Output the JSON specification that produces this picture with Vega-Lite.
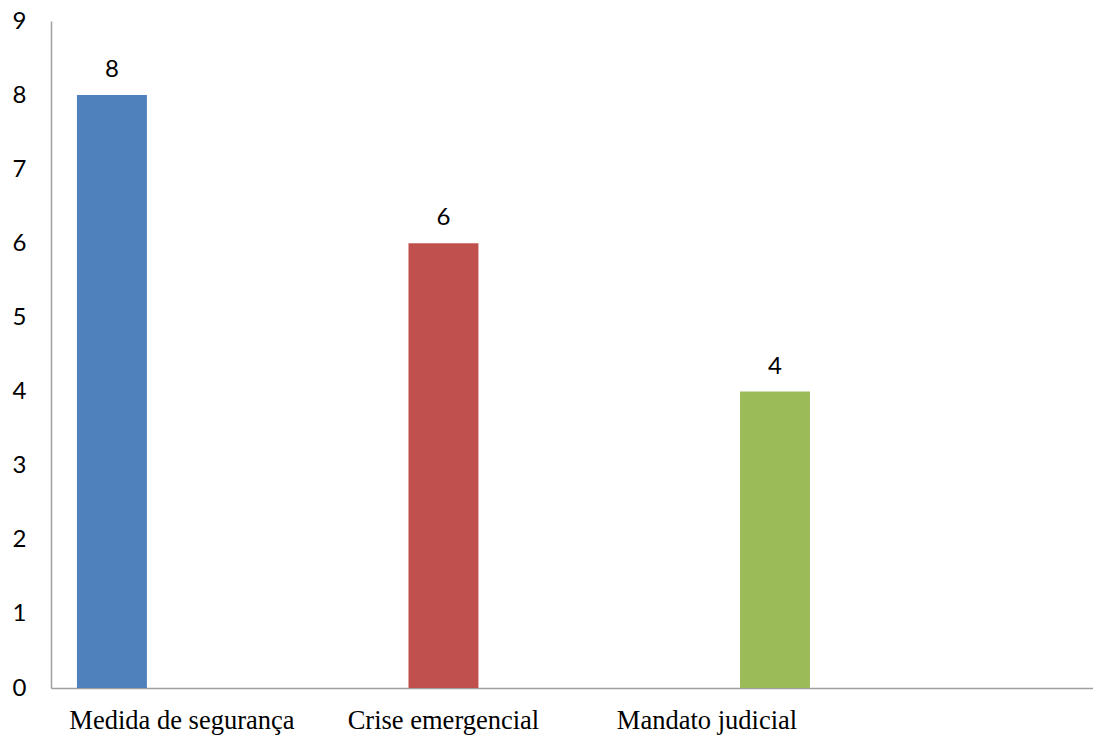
{
  "$schema": "https://vega.github.io/schema/vega-lite/v6.json",
  "width": 1042,
  "height": 667,
  "autosize": {"type": "none"},
  "padding": {"left": 51, "top": 21, "right": 0, "bottom": 48},
  "background": "white",
  "config": {"view": {"stroke": null}},
  "data": {
    "values": [
      {"categoria": "Medida de segurança", "valor": 8},
      {"categoria": "Crise emergencial", "valor": 6},
      {"categoria": "Mandato judicial", "valor": 4}
    ]
  },
  "encoding": {
    "x": {
      "field": "categoria",
      "type": "nominal",
      "sort": null,
      "scale": {"paddingInner": 0.789, "paddingOuter": 0.466, "align": 0.084, "round": false},
      "axis": {
        "title": null,
        "ticks": false,
        "domainColor": "#a0a0a0",
        "domainWidth": 1.5,
        "labelAngle": 0,
        "labelFont": "Liberation Serif",
        "labelFontSize": 26.5,
        "labelColor": "#000000",
        "labelPadding": 19,
        "labelBaseline": "top",
        "labelLimit": 0,
        "labelOverlap": false,
        "labelOffset": {
          "condition": [
            {"test": "datum.value == 'Medida de segurança'", "value": 70},
            {"test": "datum.value == 'Mandato judicial'", "value": -68}
          ],
          "value": 0
        }
      }
    },
    "y": {
      "field": "valor",
      "type": "quantitative",
      "scale": {"domain": [0, 9], "nice": false},
      "axis": {
        "title": null,
        "ticks": false,
        "grid": false,
        "values": [0, 1, 2, 3, 4, 5, 6, 7, 8, 9],
        "labelOverlap": false,
        "domainColor": "#a0a0a0",
        "domainWidth": 1.5,
        "labelFont": "Lato",
        "labelFontSize": 24,
        "labelColor": "#000000",
        "labelPadding": 25
      }
    }
  },
  "layer": [
    {
      "mark": {"type": "bar"},
      "encoding": {
        "color": {
          "field": "categoria",
          "type": "nominal",
          "scale": {
            "domain": ["Medida de segurança", "Crise emergencial", "Mandato judicial"],
            "range": ["#4f81bd", "#c0504d", "#9bbb59"]
          },
          "legend": null
        }
      }
    },
    {
      "mark": {"type": "text", "font": "Lato", "fontSize": 24, "color": "#000000", "baseline": "alphabetic", "dy": -18},
      "encoding": {
        "text": {"field": "valor", "type": "quantitative"}
      }
    }
  ]
}
